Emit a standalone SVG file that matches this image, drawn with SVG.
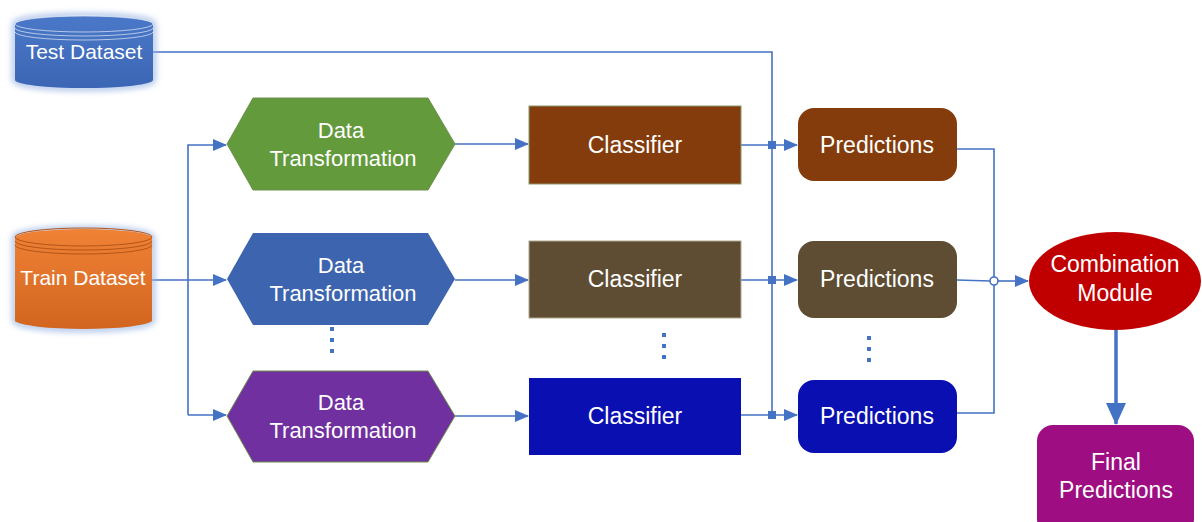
<svg xmlns="http://www.w3.org/2000/svg" width="1202" height="522" viewBox="0 0 1202 522">
<style>
.ln{fill:none;stroke:#4472C4;stroke-width:1.6}
.t{font-family:"Liberation Sans",Arial,sans-serif;font-size:23px;fill:#fff;text-anchor:middle}
.tx{font-family:"Liberation Sans",Arial,sans-serif;font-size:22px;fill:#fff;text-anchor:middle}
.ts{font-family:"Liberation Sans",Arial,sans-serif;font-size:21px;fill:#fff;text-anchor:middle}
.hex{stroke:#6E8F4E;stroke-width:1}
.cls{stroke:#8A9A70;stroke-width:1}
.dot{fill:#4472C4}
.cyl{stroke:#fff;stroke-opacity:0.6;stroke-width:1}
</style>
<defs>
<marker id="arr" markerWidth="14" markerHeight="12" refX="13" refY="6" orient="auto" markerUnits="userSpaceOnUse">
<path d="M0,0 L14,6 L0,12 Z" fill="#4472C4"/>
</marker>
<marker id="arrB" markerWidth="22" markerHeight="20" refX="21" refY="10" orient="auto" markerUnits="userSpaceOnUse">
<path d="M0,0 L22,10 L0,20 Z" fill="#4472C4"/>
</marker>
<filter id="glow" x="-20%" y="-20%" width="140%" height="140%">
<feGaussianBlur stdDeviation="3"/>
</filter>
<linearGradient id="og" x1="0" y1="0" x2="0" y2="1">
<stop offset="0" stop-color="#F08236"/>
<stop offset="1" stop-color="#D2651F"/>
</linearGradient>
<linearGradient id="bg" x1="0" y1="0" x2="0" y2="1">
<stop offset="0" stop-color="#4A78C8"/>
<stop offset="1" stop-color="#3C66B4"/>
</linearGradient>
</defs>

<g id="connectors">
<path class="ln" d="M153,52 H772 V415"/>
<path class="ln" d="M152,280 H226" marker-end="url(#arr)"/>
<path class="ln" d="M188,415 V145 H226" marker-end="url(#arr)"/>
<path class="ln" d="M188,415 H226" marker-end="url(#arr)"/>
<path class="ln" d="M455,144 H528" marker-end="url(#arr)"/>
<path class="ln" d="M455,280 H528" marker-end="url(#arr)"/>
<path class="ln" d="M455,416 H528" marker-end="url(#arr)"/>
<path class="ln" d="M741,145 H797" marker-end="url(#arr)"/>
<path class="ln" d="M741,280 H797" marker-end="url(#arr)"/>
<path class="ln" d="M741,415 H797" marker-end="url(#arr)"/>
<rect x="768" y="141" width="8" height="8" fill="#4472C4"/>
<rect x="768" y="276" width="8" height="8" fill="#4472C4"/>
<rect x="768" y="411" width="8" height="8" fill="#4472C4"/>
<path class="ln" d="M957,149 H994 V413 H957"/>
<path class="ln" d="M957,280 L990,281"/>
<path class="ln" d="M998,281 H1028" marker-end="url(#arr)"/>
<circle cx="994" cy="281" r="4" fill="#fff" stroke="#4472C4" stroke-width="1.6"/>
<path fill="none" stroke="#4472C4" stroke-width="3.5" d="M1116,330 V424" marker-end="url(#arrB)"/>
</g>

<g id="test-dataset">
<path d="M15,24 A69,8 0 0 1 153,24 V80 A69,8 0 0 1 15,80 Z" fill="none" stroke="#9DB7E4" stroke-width="5" filter="url(#glow)"/>
<path d="M15,24 A69,8 0 0 1 153,24 V80 A69,8 0 0 1 15,80 Z" fill="url(#bg)"/>
<ellipse class="cyl" cx="84" cy="24" rx="69" ry="8" fill="none"/>
<path class="cyl" d="M15,28 A69,8 0 0 0 153,28" fill="none"/>
<path class="cyl" d="M15,32 A69,8 0 0 0 153,32" fill="none"/>
<text class="ts" x="84" y="59">Test Dataset</text>
</g>

<g id="train-dataset">
<path d="M15,237 A69,9 0 0 1 152,237 V321 A69,9 0 0 1 15,321 Z" fill="none" stroke="#9DB7E4" stroke-width="5" filter="url(#glow)"/>
<path d="M15,237 A69,9 0 0 1 152,237 V321 A69,9 0 0 1 15,321 Z" fill="url(#og)"/>
<ellipse cx="83.5" cy="237" rx="68.5" ry="9" fill="none" stroke="#B35518" stroke-width="1"/>
<path d="M15,241 A68.5,9 0 0 0 152,241" fill="none" stroke="#B35518" stroke-width="1"/>
<path d="M15,245 A68.5,9 0 0 0 152,245" fill="none" stroke="#B35518" stroke-width="1"/>
<text class="ts" x="83" y="285">Train Dataset</text>
</g>

<g id="transform-1">
<polygon class="hex" points="227,144 253,98 428,98 455,144 428,190 253,190" fill="#629A3C"/>
<text class="tx" x="341" y="138">Data</text>
<text class="tx" x="343" y="166">Transformation</text>
</g>
<g id="transform-2">
<polygon points="227,279 253,233 428,233 455,279 428,325 253,325" fill="#3D64AE"/>
<text class="tx" x="341" y="273">Data</text>
<text class="tx" x="343" y="301">Transformation</text>
</g>
<g id="transform-3">
<polygon class="hex" points="227,416 253,371 428,371 455,416 428,462 253,462" fill="#7030A0"/>
<text class="tx" x="341" y="410">Data</text>
<text class="tx" x="343" y="438">Transformation</text>
</g>
<g id="dots-1">
<rect class="dot" x="330" y="327" width="4" height="4"/>
<rect class="dot" x="330" y="338" width="4" height="4"/>
<rect class="dot" x="330" y="349" width="4" height="4"/>
</g>

<g id="classifier-1">
<rect class="cls" x="529" y="106" width="212" height="78" fill="#843C0C"/>
<text class="t" x="635" y="153">Classifier</text>
</g>
<g id="classifier-2">
<rect x="529" y="241" width="212" height="77" fill="#5E4D32" stroke="#B0A890" stroke-width="1"/>
<text class="t" x="635" y="287">Classifier</text>
</g>
<g id="classifier-3">
<rect x="529" y="378" width="212" height="77" fill="#0A0FB2"/>
<text class="t" x="635" y="424">Classifier</text>
</g>
<g id="dots-2">
<rect class="dot" x="662" y="333" width="4" height="4"/>
<rect class="dot" x="662" y="344" width="4" height="4"/>
<rect class="dot" x="662" y="355" width="4" height="4"/>
</g>

<g id="predictions-1">
<rect x="798" y="108" width="159" height="73" rx="16" fill="#843C0C"/>
<text class="t" x="877" y="153">Predictions</text>
</g>
<g id="predictions-2">
<rect x="798" y="241" width="159" height="77" rx="16" fill="#5E4D32"/>
<text class="t" x="877" y="287">Predictions</text>
</g>
<g id="predictions-3">
<rect x="798" y="380" width="159" height="73" rx="16" fill="#0A0FB2"/>
<text class="t" x="877" y="424">Predictions</text>
</g>
<g id="dots-3">
<rect class="dot" x="867" y="336" width="4" height="4"/>
<rect class="dot" x="867" y="347" width="4" height="4"/>
<rect class="dot" x="867" y="358" width="4" height="4"/>
</g>

<g id="combination">
<ellipse cx="1115" cy="281" rx="86" ry="49" fill="#C00000"/>
<text class="t" x="1115" y="272">Combination</text>
<text class="t" x="1115" y="301">Module</text>
</g>

<g id="final">
<rect x="1037" y="425" width="157" height="110" rx="16" fill="#9E0E82"/>
<text class="t" x="1116" y="470">Final</text>
<text class="t" x="1116" y="498">Predictions</text>
</g>
</svg>
